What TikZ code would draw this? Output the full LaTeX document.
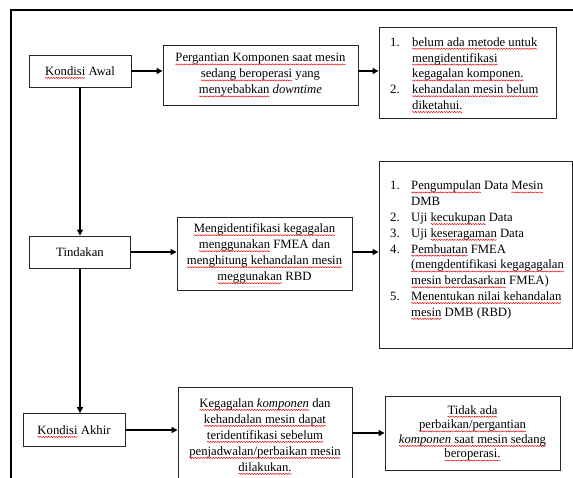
\documentclass[tikz,border=0pt]{standalone}
\usepackage{fontspec}
\setmainfont{Liberation Serif}
\usetikzlibrary{arrows.meta,decorations.pathmorphing}
\newlength\sqwlen
\newcommand\sqw[1]{\settowidth\sqwlen{#1}\leavevmode\rlap{#1}\tikz[baseline=0pt,x=1pt,y=1pt]{\useasboundingbox (0,0) rectangle (\sqwlen,0);
  \draw[red!90!black,line width=0.45pt,decorate,decoration={snake,segment length=2.6pt,amplitude=0.6pt}] (0,-2.6) -- (\sqwlen,-2.6);}}
\begin{document}
\begin{tikzpicture}[x=1pt,y=-1pt,
  box/.style={draw=black!85, line width=0.9pt, align=center, inner sep=0pt,
    font=\fontsize{12.7}{16}\selectfont},
  lst/.style={align=left, inner sep=0pt, anchor=west,
    font=\fontsize{12.7}{15.8}\selectfont},
  arr/.style={line width=1.5pt, -{Triangle[length=6pt,width=6pt]}}]
\useasboundingbox (0,0) rectangle (573,477);
\clip (0,0) rectangle (573,477);
\draw[line width=2pt] (11,10) rectangle (600,500);

% row 1
\node[box, minimum width=102, minimum height=32] (awal) at (80,71) {\sqw{Kondisi} Awal};
\node[box, minimum width=195, minimum height=60] (ganti) at (260.5,75)
  {\sqw{Pergantian Komponen saat mesin}\\ \sqw{sedang beroperasi} yang\\ \sqw{menyebabkan} \textit{downtime}};
\node[box, minimum width=177, minimum height=91] (masalah) at (467.5,72.5) {};
\node[lst] (masalahtxt) at (390,73.5)
  {\makebox[22pt][l]{1.}\sqw{belum ada metode untuk}\\
   \hspace*{22pt}\sqw{mengidentifikasi}\\
   \hspace*{22pt}\sqw{kegagalan komponen.}\\
   \makebox[22pt][l]{2.}\sqw{kehandalan mesin belum}\\
   \hspace*{22pt}\sqw{diketahui.}};

% row 2
\node[box, minimum width=101, minimum height=32] (tindakan) at (80,252) {Tindakan};
\node[box, minimum width=175, minimum height=73] (metode) at (264.5,253.5)
  {\sqw{Mengidentifikasi kegagalan}\\ \sqw{menggunakan} FMEA dan\\ \sqw{menghitung kehandalan mesin}\\ \sqw{meggunakan} RBD};
\node[box, minimum width=193, minimum height=187] (langkah) at (475.5,254.5) {};
\node[lst] (langkahtxt) at (390,250)
  {\makebox[21pt][l]{1.}\sqw{Pengumpulan} Data \sqw{Mesin}\\
   \hspace*{21pt}DMB\\
   \makebox[21pt][l]{2.}Uji \sqw{kecukupan} Data\\
   \makebox[21pt][l]{3.}Uji \sqw{keseragaman} Data\\
   \makebox[21pt][l]{4.}\sqw{Pembuatan} FMEA\\
   \hspace*{21pt}\sqw{(mengdentifikasi kegagagalan}\\
   \hspace*{21pt}\sqw{mesin berdasarkan} FMEA)\\
   \makebox[21pt][l]{5.}\sqw{Menentukan nilai kehandalan}\\
   \hspace*{21pt}\sqw{mesin} DMB (RBD)};

% row 3
\node[box, minimum width=102, minimum height=33] (akhir) at (74,430) {\sqw{Kondisi} Akhir};
\node[box, minimum width=174, minimum height=96] (hasil) at (265,435)
  {\sqw{Kegagalan \textit{komponen}} dan\\ \sqw{kehandalan mesin dapat}\\ \sqw{teridentifikasi sebelum}\\ \sqw{penjadwalan/perbaikan mesin}\\ \sqw{dilakukan.}};
\node[box, minimum width=175, minimum height=74, font=\fontsize{12.7}{14.6}\selectfont] (tidak) at (472.5,433)
  {\sqw{Tidak ada}\\ \sqw{perbaikan/pergantian}\\ \sqw{\textit{komponen} saat mesin sedang}\\ \sqw{beroperasi.}};

% connectors
\draw[arr] (awal.east) -- (awal.east -| ganti.west);
\draw[arr] (ganti.east |- awal.east) -- (masalah.west |- awal.east);
\draw[arr] (awal.south) -- (awal.south |- tindakan.north);
\draw[arr] (tindakan.east) -- (tindakan.east -| metode.west);
\draw[arr] (metode.east |- tindakan.east) -- (langkah.west |- tindakan.east);
\draw[arr] (tindakan.south) -- (tindakan.south |- akhir.north);
\draw[arr] (akhir.east) -- (akhir.east -| hasil.west);
\draw[arr] (hasil.east |- tidak.east) -- (tidak.west);
\end{tikzpicture}
\end{document}
